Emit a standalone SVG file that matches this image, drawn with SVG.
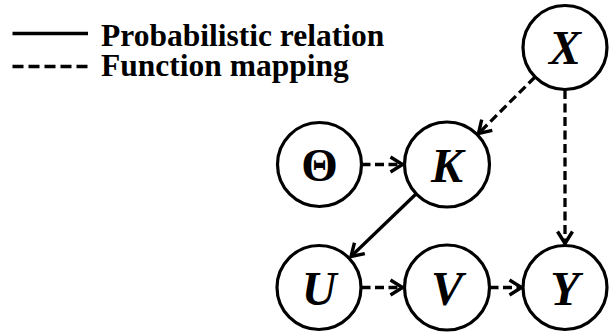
<svg xmlns="http://www.w3.org/2000/svg" width="613" height="333" viewBox="0 0 613 333">
<style>
.node circle{fill:#fff;stroke:#000;stroke-width:3.2}
.lbl{font-family:"Liberation Serif","Times New Roman",serif;font-weight:bold;font-style:italic;font-size:48px;text-anchor:middle;fill:#000}
.greek{font-style:normal;font-size:47px}
.legend{font-family:"Liberation Serif","Times New Roman",serif;font-weight:bold;font-size:31.5px;fill:#000}
.edge{stroke:#000;stroke-width:3.3;fill:none}
.dash{stroke-dasharray:9 4.5}
</style>
<defs>
<marker id="arr" markerUnits="userSpaceOnUse" markerWidth="30" markerHeight="30" viewBox="-15 -15 30 30" refX="0" refY="0" orient="auto" overflow="visible">
<path d="M-12,-7.5 L0,0 L-12,7.5" fill="none" stroke="#000" stroke-width="3.4" stroke-dasharray="none" stroke-linejoin="miter"/>
</marker>
</defs>
<g id="legend">
<line x1="12.5" y1="33.5" x2="88" y2="33.5" stroke="#000" stroke-width="3.3"/>
<line x1="12.5" y1="66.5" x2="88" y2="66.5" stroke="#000" stroke-width="3.3" stroke-dasharray="11 5"/>
<text class="legend" x="101" y="46">Probabilistic relation</text>
<text class="legend" x="101" y="76">Function mapping</text>
</g>
<g id="connectors">
<line class="edge dash" x1="361.5" y1="164.5" x2="402.5" y2="164.5" marker-end="url(#arr)"/>
<line class="edge dash" x1="535" y1="77" x2="478.5" y2="133.5" marker-end="url(#arr)"/>
<line class="edge dash" x1="565" y1="90" x2="565" y2="243.5" marker-end="url(#arr)"/>
<line class="edge" x1="416" y1="194" x2="351" y2="256.5" marker-end="url(#arr)"/>
<line class="edge dash" x1="361.5" y1="287.5" x2="402.5" y2="287.5" marker-end="url(#arr)"/>
<line class="edge dash" x1="489.5" y1="287.5" x2="521.5" y2="287.5" marker-end="url(#arr)"/>
</g>
<g id="node-X" class="node"><circle cx="565" cy="47.5" r="42"/><text class="lbl" x="565" y="64">X</text></g>
<g id="node-Theta" class="node"><circle cx="319.5" cy="164.5" r="42"/><text class="lbl greek" x="319.5" y="181">Θ</text></g>
<g id="node-K" class="node"><circle cx="447" cy="164.5" r="42.5"/><text class="lbl" x="447" y="181.5">K</text></g>
<g id="node-U" class="node"><circle cx="319" cy="287.5" r="42"/><text class="lbl" x="319" y="304.5">U</text></g>
<g id="node-V" class="node"><circle cx="447" cy="287.5" r="42.5"/><text class="lbl" x="447" y="304.5">V</text></g>
<g id="node-Y" class="node"><circle cx="565" cy="287.5" r="42"/><text class="lbl" x="565" y="304.5">Y</text></g>
</svg>
